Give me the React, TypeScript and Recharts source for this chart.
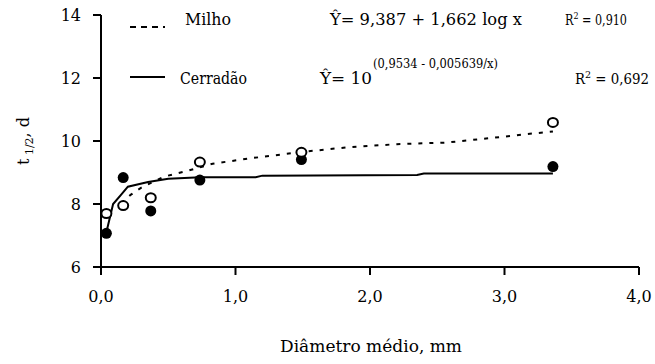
import { JSX } from 'react'
import { ComposedChart, Line, Scatter, XAxis, YAxis } from 'recharts'

// observed points (diametro medio, mm)
const diametros = [0.04, 0.165, 0.37, 0.735, 1.49, 3.36]
const milhoObs = [7.7, 7.95, 8.2, 9.33, 9.64, 10.59]
const cerradaoObs = [7.07, 8.84, 7.78, 8.76, 9.41, 9.19]

// fitted curves
const milhoCurvaX = [0.15, 0.22, 0.3, 0.47, 0.64, 0.83, 1.11, 1.49, 1.83, 2.2, 2.57, 2.82, 3.0, 3.14, 3.36]
const milhoCurvaY = [8.02, 8.29, 8.52, 8.87, 9.05, 9.28, 9.45, 9.65, 9.8, 9.9, 9.95, 10.06, 10.14, 10.21, 10.3]
const cerradaoCurvaX = [0.04, 0.09, 0.15, 0.2, 0.35, 0.5, 0.74, 1.15, 1.2, 2.35, 2.4, 3.36]
const cerradaoCurvaY = [7.1, 8.0, 8.3, 8.55, 8.7, 8.8, 8.85, 8.85, 8.9, 8.92, 8.97, 8.97]

const xTicks = [0, 1, 2, 3, 4]
const yTicks = [6, 8, 10, 12, 14]

const FONT = 'DejaVu Serif'

const milhoPontos = diametros.map((x, i) => ({ x, y: milhoObs[i] }))
const cerradaoPontos = diametros.map((x, i) => ({ x, y: cerradaoObs[i] }))
const milhoCurva = milhoCurvaX.map((x, i) => ({ x, y: milhoCurvaY[i] }))
const cerradaoCurva = cerradaoCurvaX.map((x, i) => ({ x, y: cerradaoCurvaY[i] }))

function Aberto(props: any): JSX.Element {
  return <ellipse cx={props.cx} cy={props.cy} rx={5} ry={4.5} fill="#fff" stroke="#000" strokeWidth={2} />
}

function Cheio(props: any): JSX.Element {
  return <circle cx={props.cx} cy={props.cy} r={5.5} fill="#000" />
}

export default function App(): JSX.Element {
  const tick = { fill: '#000', fontSize: 16, fontFamily: FONT }
  const fit = 'spacingAndGlyphs'
  return (
    <div style={{ position: 'absolute', left: 0, top: 0, width: 655, height: 364, background: '#fff', fontFamily: FONT }}>
      <ComposedChart width={655} height={364} margin={{ top: 15, right: 16, bottom: 57, left: 0 }}>
        <XAxis
          dataKey="x"
          type="number"
          domain={[0, 4]}
          ticks={xTicks}
          allowDataOverflow
          tickFormatter={(v: number) => v.toFixed(1).replace('.', ',')}
          height={40}
          tickSize={8}
          tickMargin={16}
          stroke="#000"
          strokeWidth={2}
          tick={tick}
        />
        <YAxis
          dataKey="y"
          type="number"
          domain={[6, 14]}
          ticks={yTicks}
          allowDataOverflow
          width={101}
          tickSize={8}
          tickMargin={12}
          stroke="#000"
          strokeWidth={2}
          tick={tick}
        />
        <Line data={milhoCurva} dataKey="y" type="linear" stroke="#000" strokeWidth={2} strokeDasharray="4 7" dot={false} isAnimationActive={false} />
        <Line data={cerradaoCurva} dataKey="y" type="linear" stroke="#000" strokeWidth={2} dot={false} isAnimationActive={false} />
        <Scatter data={cerradaoPontos} dataKey="y" shape={Cheio} isAnimationActive={false} />
        <Scatter data={milhoPontos} dataKey="y" shape={Aberto} isAnimationActive={false} />
      </ComposedChart>

      {/* legenda, equacoes e titulos */}
      <svg width={655} height={364} style={{ position: 'absolute', left: 0, top: 0, pointerEvents: 'none', fontFamily: FONT, fontSize: 16 }} fill="#000">
        <line x1={130} y1={27} x2={165} y2={27} stroke="#000" strokeWidth={2} strokeDasharray="6 5" />
        <text x={185} y={25} textLength={46} lengthAdjust={fit}>Milho</text>
        <line x1={130} y1={77} x2={165} y2={77} stroke="#000" strokeWidth={2} />
        <text x={180} y={84} textLength={67} lengthAdjust={fit}>Cerradão</text>

        <text x={330} y={25} textLength={192} lengthAdjust={fit}>Ŷ= 9,387 + 1,662 log x</text>
        <text x={565} y={25} fontSize={14} textLength={62} lengthAdjust={fit}>
          R<tspan dy={-6} fontSize={10}>2</tspan><tspan dy={6}> = 0,910</tspan>
        </text>

        <text x={320} y={84} textLength={52} lengthAdjust={fit}>Ŷ= 10</text>
        <text x={373} y={68} fontSize={13} textLength={125} lengthAdjust={fit}>(0,9534 - 0,005639/x)</text>
        <text x={575} y={84} fontSize={14} textLength={74} lengthAdjust={fit}>
          R<tspan dy={-6} fontSize={10}>2</tspan><tspan dy={6}> = 0,692</tspan>
        </text>

        <text x={280} y={352} textLength={182} lengthAdjust={fit}>Diâmetro médio, mm</text>
        <text transform="translate(29,141) rotate(-90)" textAnchor="middle">
          t<tspan fontSize={11} dy={4}> 1/2</tspan><tspan dy={-4}>, d</tspan>
        </text>
      </svg>
    </div>
  )
}
